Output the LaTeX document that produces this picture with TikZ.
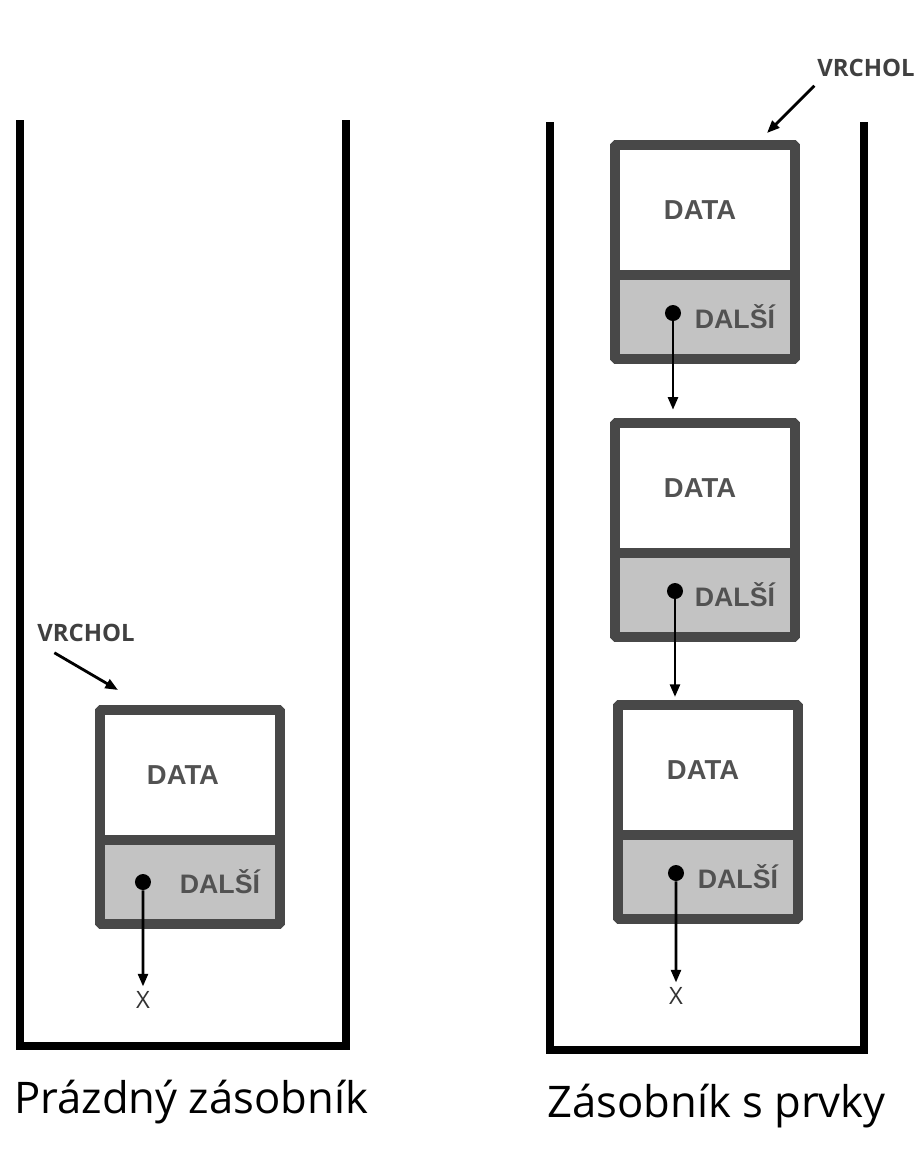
\documentclass[tikz,border=0pt]{standalone}
\usepackage{fontspec}
\setmainfont{Open Sans}
\newfontfamily\cellfont{Liberation Sans}
\usetikzlibrary{positioning,arrows.meta}
\definecolor{boxgray}{RGB}{72,72,72}
\definecolor{cellgray}{RGB}{195,195,195}
\definecolor{textgray}{RGB}{82,82,82}
\tikzset{>={Triangle[length=9pt,width=7pt]}}
\tikzset{
  wall/.style={line width=5pt, line join=miter},
  datapart/.style={draw=boxgray, fill=white, line width=7pt, rounded corners=1pt,
    minimum width=4.5cm, minimum height=3.25cm, outer sep=0pt, text=textgray,
    font=\cellfont\bfseries\fontsize{19.5}{22}\selectfont},
  nextpart/.style={draw=boxgray, fill=cellgray, line width=7pt, rounded corners=1pt,
    minimum width=4.5cm, minimum height=2.1cm, outer sep=0pt, inner xsep=0.5cm,
    text width=3.5cm, align=right, text=textgray,
    font=\cellfont\bfseries\fontsize{19}{22}\selectfont},
  pointer/.style={circle, fill=black, inner sep=0pt, minimum size=0.4cm},
  ptr/.style={->, line width=2pt},
  nil/.style={font=\fontsize{17}{19}\selectfont, text=black!80},
  vrchol/.style={font=\bfseries\fontsize{17}{19}\selectfont, text=black!75},
  caption/.style={font=\fontsize{31}{36}\selectfont, inner sep=0pt}
}

\begin{document}
\begin{tikzpicture}[x=0.025cm, y=-0.025cm]
  \useasboundingbox (0,0) rectangle (920,1152);

  % prazdny zasobnik
  \draw[wall] (20,120) -- (20,1046) -- (346,1046) -- (346,120);
  \node[datapart] (d0) at (190,775) {DATA\hspace*{0.35cm}};
  \node[nextpart, below=0pt of d0] (n0) {DAL\v{S}\'I};
  \node[pointer] (p0) at ([xshift=-1.175cm]n0.center) {};
  \node[nil] (x0) at (143,1000) {X};
  \draw[ptr] (p0) -- (x0);
  \node[vrchol] (top0) at (86,633) {VRCHOL};
  \coordinate (top0end) at (118,690);
  \draw[ptr] ([xshift=0.55cm,yshift=-0.15cm]top0.south west) -- (top0end);
  \node[caption, anchor=base west] (cap0) at (14,1113) {Prázdný zásobník};

  % zasobnik s prvky
  \draw[wall] (550,122) -- (550,1050) -- (864,1050) -- (864,122);
  \node[datapart] (d1) at (705,210) {DATA\hspace*{0.25cm}};
  \node[nextpart, below=0pt of d1] (n1) {DAL\v{S}\'I};
  \node[datapart] (d2) at (705,488) {DATA\hspace*{0.25cm}};
  \node[nextpart, below=0pt of d2] (n2) {DAL\v{S}\'I};
  \node[datapart] (d3) at (708,770) {DATA\hspace*{0.25cm}};
  \node[nextpart, below=0pt of d3] (n3) {DAL\v{S}\'I};
  \node[pointer] (p1) at ([xshift=-0.8cm,yshift=0.1cm]n1.center) {};
  \node[pointer] (p2) at ([xshift=-0.75cm,yshift=0.1cm]n2.center) {};
  \node[pointer] (p3) at ([xshift=-0.8cm,yshift=0.1cm]n3.center) {};
  \draw[ptr, shorten >=0.33cm] (p1) -- (p1 |- d2.north);
  \draw[ptr, shorten >=0.2cm] (p2) -- (p2 |- d3.north);
  \node[nil] (x3) at (676,996) {X};
  \draw[ptr] (p3) -- (x3);
  \node[vrchol] (top1) at (866,68) {VRCHOL};
  \coordinate (top1end) at (767,133);
  \draw[ptr] ([xshift=0.05cm,yshift=-0.1cm]top1.south west) -- (top1end);
  \node[caption, anchor=base west] (cap1) at (547,1117) {Zásobník s prvky};
\end{tikzpicture}
\end{document}
